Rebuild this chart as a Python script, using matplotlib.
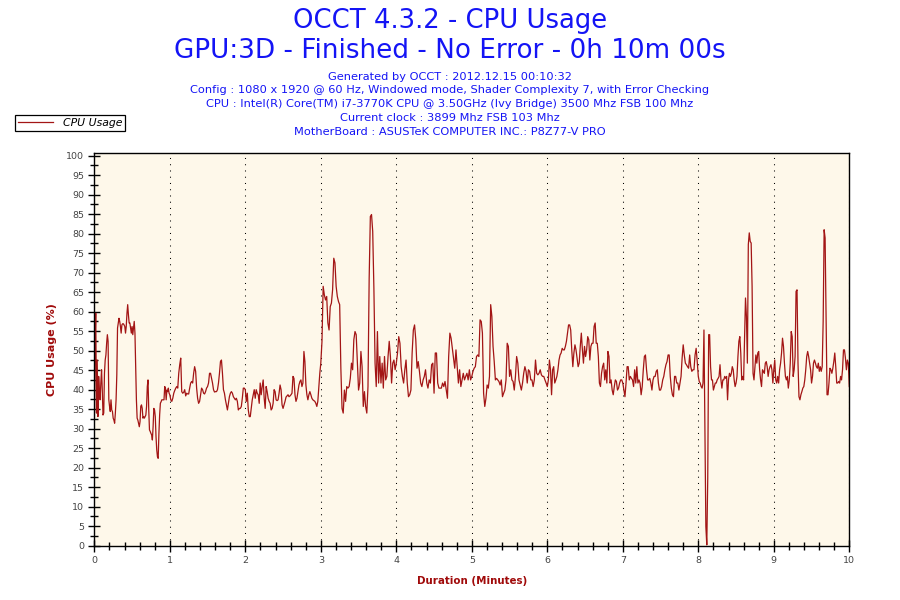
import numpy as np
import matplotlib
matplotlib.use("Agg")
import matplotlib.pyplot as plt
from matplotlib.ticker import MultipleLocator

# CPU usage (%), one list per minute of the run
cpu_min0 = [32.7, 51.9, 59.6, 34.0, 47.6, 33.1, 43.4, 39.9, 37.4, 41.7, 45.1, 39.9, 33.5, 34.0, 44.2, 47.6,
            48.9, 51.9, 54.1, 52.4, 37.4, 35.7, 34.4, 37.4, 34.8, 34.4, 32.7, 32.2, 31.4, 34.0, 37.4, 43.8,
            55.8, 57.1, 58.3, 57.5, 56.2, 54.5, 56.6, 56.9, 56.9, 56.6, 56.2, 54.5, 56.2, 59.6, 61.8, 59.2,
            57.1, 57.1, 55.8, 54.5, 56.2, 54.1, 55.8, 57.5, 54.5, 45.9, 37.4, 32.7, 32.2, 31.4, 30.5, 31.8,
            35.7, 36.1, 35.2, 32.7, 33.1, 32.7, 33.1, 33.5, 35.7, 40.8, 42.5, 34.8, 29.7, 29.3, 28.8, 28.4,
            27.1, 30.5, 35.2, 34.8, 33.1, 28.0, 24.6, 22.8, 22.4, 28.8, 33.5, 36.5, 36.9, 37.4, 37.4, 37.4,
            37.4, 40.8, 40.4, 37.4, 39.9, 39.5, 40.4, 39.1]
cpu_min1 = [38.7, 37.4, 37.0, 37.8, 39.1, 39.8, 40.4, 40.8, 40.4, 44.2, 46.4, 48.1, 39.5, 39.1, 39.3, 40.0,
            38.4, 39.1, 38.9, 38.9, 40.4, 41.7, 42.1, 41.7, 44.2, 45.9, 44.7, 40.4, 37.8, 36.5, 37.0, 38.7,
            40.4, 40.0, 39.1, 38.9, 39.5, 40.4, 40.8, 41.7, 44.2, 44.2, 42.9, 41.7, 40.0, 39.4, 39.5, 39.5,
            40.0, 41.7, 44.2, 47.2, 47.6, 44.2, 40.0, 39.1, 37.4, 36.1, 34.8, 36.5, 38.2, 39.1, 39.5, 39.1,
            38.2, 37.8, 37.4, 37.8, 37.0, 34.8, 35.2, 35.2, 35.7, 37.8, 40.4, 40.4]
cpu_min2 = [40.0, 37.0, 39.1, 34.8, 33.1, 33.1, 35.2, 37.4, 38.7, 40.0, 37.8, 40.0, 39.1, 38.7, 36.5, 41.7,
            38.7, 40.8, 42.5, 37.8, 35.2, 40.8, 39.5, 37.8, 37.0, 36.5, 34.8, 35.2, 36.5, 40.0, 39.5, 37.4,
            37.2, 37.4, 39.1, 41.2, 40.0, 36.1, 35.2, 36.1, 37.0, 38.1, 38.4, 38.7, 38.2, 38.4, 38.7, 39.1,
            43.4, 42.9, 38.7, 37.0, 37.8, 39.5, 41.2, 42.1, 42.5, 40.8, 41.7, 49.8, 47.2, 41.2, 38.7, 37.4,
            38.7, 39.5, 38.7, 37.8, 37.4, 37.2, 37.0, 36.5, 35.7, 37.0, 40.8, 44.2]
cpu_min3 = [46.8, 52.4, 66.5, 64.3, 63.0, 63.9, 57.1, 55.3, 61.3, 62.2, 65.6, 73.7, 72.5, 66.5, 63.9, 62.6,
            61.8, 45.5, 35.2, 34.0, 39.9, 37.0, 40.8, 40.4, 40.8, 42.9, 46.8, 45.1, 52.8, 54.9, 54.1, 46.8,
            39.9, 41.7, 49.8, 45.9, 35.7, 39.5, 35.7, 34.0, 40.8, 68.6, 84.4, 84.9, 80.6, 66.0, 46.8, 40.8,
            54.9, 41.7, 48.5, 41.7, 46.8, 40.4, 48.5, 42.5, 43.4, 48.5, 52.4, 48.5, 41.7, 46.8, 47.6, 45.1]
cpu_min4 = [46.8, 49.4, 53.6, 51.9, 45.9, 43.4, 41.7, 45.1, 47.6, 41.7, 38.2, 38.7, 39.9, 49.4, 55.3, 56.6,
            52.8, 45.5, 47.2, 44.7, 41.7, 40.8, 42.5, 43.4, 45.1, 41.7, 40.4, 42.5, 41.7, 46.4, 46.8, 39.1,
            49.4, 49.4, 41.7, 40.4, 40.4, 40.4, 41.7, 40.8, 42.1, 39.9, 37.8, 48.5, 54.5, 53.2, 50.6, 48.1,
            45.5, 50.2, 45.9, 41.7, 45.1, 40.8, 42.5, 44.2, 42.5, 43.4, 44.2, 42.5, 45.1, 42.5]
cpu_min5 = [43.4, 44.7, 45.5, 45.9, 48.5, 48.9, 48.5, 57.9, 57.5, 54.5, 39.1, 35.7, 37.8, 41.2, 40.4, 43.4,
            61.8, 58.8, 51.1, 47.2, 42.5, 42.9, 42.5, 42.1, 41.2, 42.5, 38.2, 39.1, 39.9, 42.5, 51.9, 51.1,
            43.4, 45.1, 42.5, 42.1, 39.9, 43.4, 48.5, 46.8, 42.5, 41.2, 39.9, 41.7, 44.2, 45.9, 44.7, 41.7,
            45.1, 44.7, 42.5, 42.5, 40.8, 42.5, 47.6, 44.2, 43.8, 44.2, 45.1, 43.8, 43.4, 43.4, 42.5, 41.7]
cpu_min6 = [40.8, 42.5, 47.6, 45.1, 38.7, 45.1, 45.9, 41.7, 42.5, 43.4, 45.1, 47.6, 48.9, 49.4, 50.6, 50.2,
            50.2, 51.1, 52.4, 54.5, 56.6, 56.6, 55.3, 50.2, 45.9, 49.4, 51.5, 50.2, 48.1, 45.9, 46.8, 51.1,
            54.5, 50.2, 46.8, 51.1, 48.5, 50.2, 53.6, 52.8, 47.6, 51.1, 51.9, 51.9, 56.2, 57.1, 51.9, 51.9,
            48.5, 41.7, 40.8, 44.2, 45.9, 46.8, 42.5, 45.1, 41.7, 49.8, 48.5, 41.7, 42.5, 39.9, 38.7, 40.8,
            42.5, 42.1, 39.9, 40.4, 41.7, 42.5, 42.5]
cpu_min7 = [41.7, 39.9, 38.2, 41.7, 45.9, 45.9, 42.5, 43.4, 42.9, 42.5, 40.8, 45.1, 41.7, 45.9, 41.7, 42.5,
            41.7, 38.7, 40.8, 45.1, 48.5, 48.9, 45.1, 42.5, 42.5, 42.9, 41.7, 39.9, 42.5, 43.4, 43.4, 44.7,
            45.1, 41.7, 39.9, 39.9, 40.8, 42.5, 43.4, 45.1, 46.4, 47.2, 48.9, 48.9, 43.4, 40.4, 38.7, 38.2,
            43.4, 43.4, 41.7, 41.7, 39.9, 41.7, 43.4, 48.1, 51.5, 48.9, 46.8, 46.4, 45.9, 45.5, 48.9, 45.9,
            44.7, 45.1, 45.1, 48.9, 50.6, 47.2]
cpu_min8 = [43.4, 42.1, 41.7, 40.8, 40.4, 41.7, 55.3, 31.0, 4.9, 0.2, 17.3, 54.1, 54.1, 45.9, 42.5, 42.5,
            39.9, 40.8, 41.7, 41.7, 42.5, 42.9, 43.4, 46.4, 42.5, 40.4, 42.5, 42.5, 43.4, 42.9, 43.4, 37.4,
            42.5, 44.2, 43.4, 44.2, 45.9, 45.1, 42.5, 40.8, 41.7, 43.4, 48.5, 52.4, 53.6, 49.4, 42.5, 43.4,
            42.5, 53.6, 63.5, 58.8, 46.8, 77.2, 80.2, 78.0, 77.6, 66.5, 44.2, 42.5, 45.9, 48.9, 46.8, 49.4,
            49.8, 45.1, 42.5, 40.8, 45.1, 44.7, 44.2, 46.8, 47.2, 45.9, 43.4, 45.1, 45.9, 46.4, 45.1, 41.7]
cpu_min9 = [45.1, 47.6, 42.5, 41.7, 43.4, 41.7, 45.1, 46.8, 49.4, 53.2, 51.1, 46.8, 43.4, 42.5, 43.4, 40.4,
            42.5, 46.8, 54.9, 53.6, 43.4, 45.1, 48.5, 65.2, 65.6, 46.8, 38.2, 37.4, 38.7, 39.5, 40.4, 40.8,
            42.5, 45.1, 48.5, 49.8, 48.5, 46.8, 45.1, 41.7, 43.4, 46.8, 47.6, 46.8, 45.9, 45.5, 46.8, 44.7,
            45.9, 44.7, 45.9, 57.5, 81.0, 78.9, 58.8, 38.7, 38.7, 41.7, 45.5, 45.1, 44.2, 45.5, 47.2, 49.4,
            45.9, 41.7, 41.7, 42.1, 41.7, 43.4, 42.5, 45.1, 50.2, 50.2, 48.1, 45.1, 47.6, 46.8, 40.8]

minutes = [cpu_min0, cpu_min1, cpu_min2, cpu_min3, cpu_min4,
           cpu_min5, cpu_min6, cpu_min7, cpu_min8, cpu_min9]

title1 = "OCCT 4.3.2 - CPU Usage"
title2 = "GPU:3D - Finished - No Error - 0h 10m 00s"
info_lines = [
    "Generated by OCCT : 2012.12.15 00:10:32",
    "Config : 1080 x 1920 @ 60 Hz, Windowed mode, Shader Complexity 7, with Error Checking",
    "CPU : Intel(R) Core(TM) i7-3770K CPU @ 3.50GHz (Ivy Bridge) 3500 Mhz FSB 100 Mhz",
    "Current clock : 3899 Mhz FSB 103 Mhz",
    "MotherBoard : ASUSTeK COMPUTER INC.: P8Z77-V PRO",
]

# spread each minute's samples evenly over that minute
t = []
cpu = []
for k, vals in enumerate(minutes):
    last = k == len(minutes) - 1
    t.extend(np.linspace(k, k + 1, len(vals), endpoint=last))
    cpu.extend(vals)

plt.rcParams['font.family'] = ['DejaVu Sans']
line_col = '#A31515'
label_col = '#A00A0A'
blue = '#1414F5'

fig = plt.figure(figsize=(9, 6), dpi=100)
ax = fig.add_axes([94.3 / 900, 1 - 545.7 / 600, 755 / 900, 392.4 / 600])
ax.set_facecolor('#FEF8EA')

line, = ax.plot(t, cpu, color=line_col, lw=0.9, label='CPU Usage')

ax.set_xlim(0, 10)
ax.set_ylim(0, 100.6)
ax.xaxis.set_major_locator(MultipleLocator(1))
ax.xaxis.set_minor_locator(MultipleLocator(0.2))
ax.yaxis.set_major_locator(MultipleLocator(5))
ax.yaxis.set_minor_locator(MultipleLocator(2.5))
ax.tick_params(which='major', direction='inout', length=8.5, width=1, colors='black',
               labelcolor='#444444', labelsize=6.8, pad=3)
ax.tick_params(which='minor', direction='inout', length=5.5, width=1, colors='black')
for s in ax.spines.values():
    s.set_linewidth(1)
    s.set_color('black')

ax.grid(axis='x', which='major', color='black', lw=0.75, ls=(0, (1, 5)))

ax.set_ylabel('CPU Usage (%)', color=label_col, fontsize=8, fontweight='bold', labelpad=7)
ax.set_xlabel('Duration (Minutes)', color=label_col, fontsize=7.4, fontweight='bold', labelpad=8)

fig.text(0.5, 1 - 21 / 600, title1, ha='center', va='center', color=blue, fontsize=18.6)
fig.text(0.5, 1 - 51 / 600, title2, ha='center', va='center', color=blue, fontsize=18.9)
for i, s in enumerate(info_lines):
    fig.text(0.5, 1 - (76.5 + 13.8 * i) / 600, s, ha='center', va='center', color=blue, fontsize=8.2)

leg = fig.legend(handles=[line], loc='upper left', bbox_to_anchor=(15 / 900, 1 - 114.5 / 600),
                 frameon=True, fancybox=False, edgecolor='black', framealpha=1,
                 prop={'size': 7.8, 'style': 'italic'}, handlelength=3.2, borderpad=0.3,
                 handletextpad=0.9, borderaxespad=0)
leg.get_frame().set_linewidth(0.9)

fig.savefig('out.png', dpi=100, facecolor='white')
